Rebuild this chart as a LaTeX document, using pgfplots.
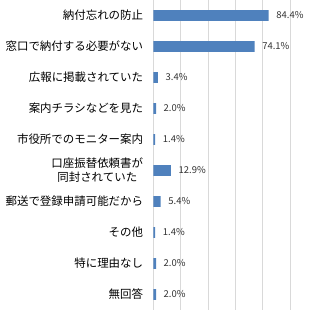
\documentclass[border=0pt]{standalone}
\usepackage{pgfplots}
\pgfplotsset{compat=1.18}
\usepackage{fontspec}
\setmainfont{Noto Sans CJK JP}
\definecolor{barblue}{HTML}{4F81BD}
\definecolor{gridgray}{HTML}{D9D9D9}
\begin{document}
\begin{tikzpicture}
\useasboundingbox (0,0) rectangle (309bp,311bp);
\begin{axis}[
  at={(153.3bp,1bp)}, anchor=south west,
  scale only axis, width=136.7bp, height=310bp,
  xbar, xmin=0, xmax=100, ymin=0.5, ymax=10.5, y dir=reverse,
  axis line style={draw=none},
  xmajorgrids, grid style={gridgray, line width=0.8pt},
  xtick={0,20,...,100}, xticklabels={},
  ytick={1,...,10},
  yticklabels={納付忘れの防止,窓口で納付する必要がない,広報に掲載されていた,案内チラシなどを見た,市役所でのモニター案内,{口座振替依頼書が\\同封されていた},郵送で登録申請可能だから,その他,特に理由なし,無回答},
  major tick length=0pt,
  yticklabel style={align=center, inner sep=0pt, xshift=-10bp, font=\fontsize{11.5}{14}\selectfont},
  bar width=10.7bp,
  point meta=x,
  nodes near coords={\pgfmathprintnumber[fixed,fixed zerofill,precision=1,assume math mode=true]{\pgfplotspointmeta}\%},
  nodes near coords style={font=\fontsize{9.5}{11}\selectfont, anchor=west, inner sep=0pt, xshift=7.5bp, text=black!80},
]
\addplot[fill=barblue, draw=none] coordinates {(84.4,1) (74.1,2) (3.4,3) (2.0,4) (1.4,5) (12.9,6) (5.4,7) (1.4,8) (2.0,9) (2.0,10)};
\end{axis}
\end{tikzpicture}
\end{document}
